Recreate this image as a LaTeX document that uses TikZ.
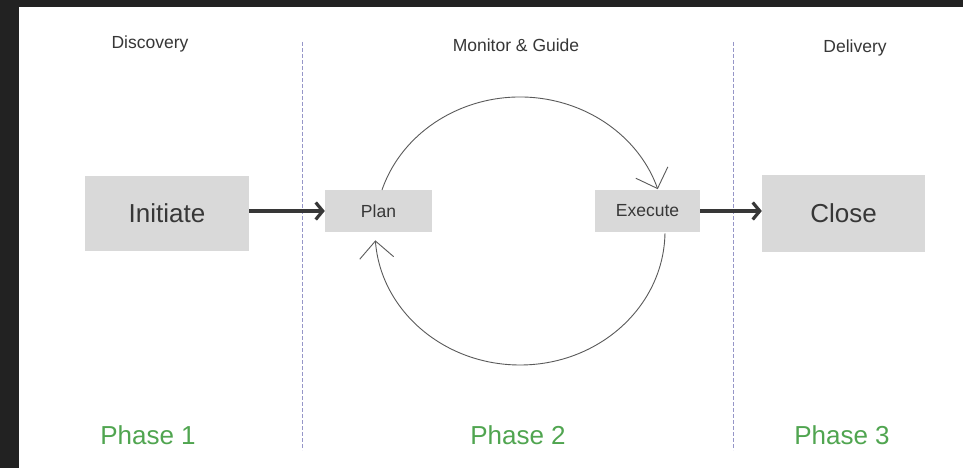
\documentclass[tikz,border=0pt]{standalone}
\usepackage{fontspec}
\setmainfont{Liberation Sans}
\usetikzlibrary{arrows.meta}
\definecolor{boxgray}{RGB}{217,217,217}
\definecolor{txtdark}{RGB}{55,55,55}
\definecolor{phasegreen}{RGB}{80,165,80}
\definecolor{divline}{RGB}{150,150,200}
\definecolor{framedark}{RGB}{34,34,34}
\definecolor{arrowdark}{RGB}{55,55,55}
\definecolor{loopgray}{RGB}{90,90,90}
\tikzset{
  bigbox/.style={fill=boxgray, inner sep=0pt, text=txtdark, font=\fontsize{26}{30}\selectfont},
  smallbox/.style={fill=boxgray, inner sep=0pt, text=txtdark, font=\fontsize{17.5}{20}\selectfont},
  headlabel/.style={text=txtdark, font=\fontsize{17.5}{20}\selectfont, inner sep=0pt},
  phaselabel/.style={text=phasegreen, font=\fontsize{26}{30}\selectfont, inner sep=0pt},
  divider/.style={draw=divline, line width=1pt, dash pattern=on 4pt off 2pt},
  flowarrow/.style={draw=arrowdark, line width=3.2pt, -{Straight Barb[length=7pt,width=17pt]}},
  looparrow/.style={draw=loopgray, line width=0.9pt, -{Straight Barb[length=17pt,width=34pt]}}
}
\begin{document}
\begin{tikzpicture}[x=1pt,y=-1pt]
\useasboundingbox (0,0) rectangle (963,468);
\fill[white] (0,0) rectangle (963,468);
\fill[framedark] (0,0) rectangle (963,7);
\fill[framedark] (0,0) rectangle (19,468);

% column dividers
\coordinate (d1top) at (302,42);
\coordinate (d1bot) at (302,450);
\coordinate (d2top) at (733,42);
\coordinate (d2bot) at (733,450);
\draw[divider] (d1top) -- (d1bot);
\draw[divider] (d2top) -- (d2bot);

% headings
\node[headlabel] (hdisc) at (150,44) {Discovery};
\node[headlabel] (hmon) at (516,45) {Monitor \& Guide};
\node[headlabel] (hdel) at (855,48) {Delivery};

% boxes
\node[bigbox, minimum width=164pt, minimum height=75pt] (initiate) at (167,213) {Initiate};
\node[smallbox, minimum width=107pt, minimum height=42pt] (plan) at (378.5,211) {Plan};
\node[smallbox, minimum width=105pt, minimum height=42pt] (execute) at (647.5,211) {Execute};
\node[bigbox, minimum width=163pt, minimum height=77pt] (close) at (843.5,213.5) {Close};

% flow arrows
\draw[flowarrow] (initiate.east |- plan.west) -- (plan.west);
\draw[flowarrow] (execute.east) -- (execute.east -| close.west);

% loop
\coordinate (loopc) at (520,231);
\draw[looparrow] (loopc) ++(197.8:145 and 134) arc[start angle=197.8, end angle=341.8, x radius=145, y radius=134];
\draw[looparrow] (loopc) ++(1:145 and 134) arc[start angle=1, end angle=176, x radius=145, y radius=134];

% phases
\node[phaselabel] (p1) at (148,435) {Phase 1};
\node[phaselabel] (p2) at (518,435) {Phase 2};
\node[phaselabel] (p3) at (842,435) {Phase 3};
\end{tikzpicture}
\end{document}
